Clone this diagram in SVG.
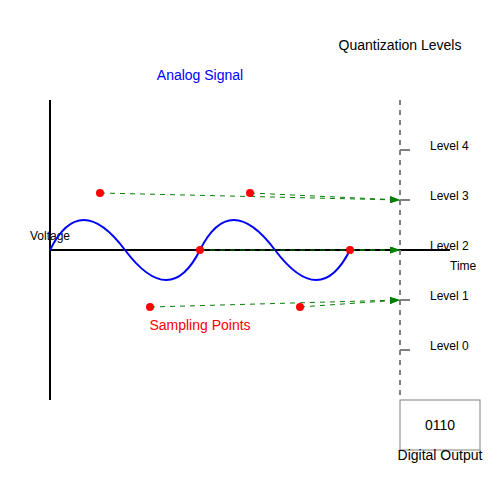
<svg xmlns="http://www.w3.org/2000/svg" width="500" height="500" viewBox="0 0 500 500">
<defs>
<marker id="arr" viewBox="0 0 10 7" refX="10" refY="3.5" markerWidth="10" markerHeight="7" markerUnits="userSpaceOnUse" orient="auto">
<polygon points="0,0 10,3.5 0,7" fill="green"/>
</marker>
<style>
text{font-family:"Liberation Sans",Arial,sans-serif}
.lbl{font-size:12px;fill:#000}
.ttl{font-size:14px;text-anchor:middle}
.axis{stroke:#000;stroke-width:2;fill:none}
.tick{stroke:#808080;stroke-width:2;fill:none}
.samp{stroke:green;stroke-width:1;stroke-dasharray:5,5;fill:none;marker-end:url(#arr)}
.pt{fill:red}
</style>
</defs>
<rect width="500" height="500" fill="#fff"/>
<g id="axes">
<line class="axis" x1="50" y1="100" x2="50" y2="400"/>
<line class="axis" x1="50" y1="250" x2="450" y2="250"/>
<text class="lbl" x="30" y="240">Voltage</text>
<text class="lbl" x="450" y="270">Time</text>
</g>
<g id="levels">
<line x1="400" y1="100" x2="400" y2="400" stroke="#808080" stroke-width="2" stroke-dasharray="5,5"/>
<line class="tick" x1="400" y1="150" x2="410" y2="150"/>
<line class="tick" x1="400" y1="200" x2="410" y2="200"/>
<line class="tick" x1="400" y1="300" x2="410" y2="300"/>
<line class="tick" x1="400" y1="350" x2="410" y2="350"/>
<text class="lbl" x="430" y="150">Level 4</text>
<text class="lbl" x="430" y="200">Level 3</text>
<text class="lbl" x="430" y="250">Level 2</text>
<text class="lbl" x="430" y="300">Level 1</text>
<text class="lbl" x="430" y="350">Level 0</text>
<text class="ttl" x="400" y="50" fill="#000">Quantization Levels</text>
</g>
<g id="signal">
<path d="M50,250 Q80,190 125,250 T200,250 T275,250 T350,250" fill="none" stroke="blue" stroke-width="2"/>
<text class="ttl" x="200" y="80" fill="blue">Analog Signal</text>
</g>
<g id="connectors">
<line class="samp" x1="100" y1="193" x2="400" y2="200"/>
<line class="samp" x1="250" y1="193" x2="400" y2="200"/>
<line class="samp" x1="200" y1="250" x2="400" y2="250"/>
<line class="samp" x1="350" y1="250" x2="400" y2="250"/>
<line class="samp" x1="150" y1="307" x2="400" y2="300"/>
<line class="samp" x1="300" y1="307" x2="400" y2="300"/>
</g>
<g id="samples">
<circle class="pt" cx="100" cy="193" r="4"/>
<circle class="pt" cx="250" cy="193" r="4"/>
<circle class="pt" cx="200" cy="250" r="4"/>
<circle class="pt" cx="350" cy="250" r="4"/>
<circle class="pt" cx="150" cy="307" r="4"/>
<circle class="pt" cx="300" cy="307" r="4"/>
<text class="ttl" x="200" y="330" fill="red">Sampling Points</text>
</g>
<g id="output">
<rect x="400" y="400" width="80" height="50" fill="none" stroke="#808080" stroke-width="1"/>
<text class="ttl" x="440" y="430" fill="#000">0110</text>
<text class="ttl" x="440" y="460" fill="#000">Digital Output</text>
</g>
</svg>
